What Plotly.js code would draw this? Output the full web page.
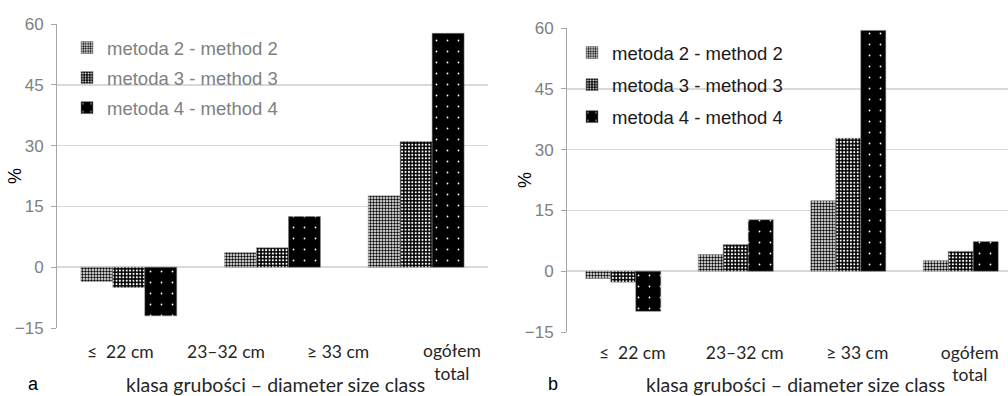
<!DOCTYPE html>
<html><head><meta charset="utf-8">
<script src="https://cdn.plot.ly/plotly-3.0.1.min.js"></script>
<style>html,body{margin:0;padding:0;background:#fff}#chart{width:1008px;height:396px}</style>
</head><body><div id="chart"></div>
<script>
const W = 1008, H = 396;

// ---- data ----
const catsA = ['≤ 22 cm', '23–32 cm', '≥ 33 cm'];
const labelsA = ['≤\u00a0 22 cm', '23–32 cm', '≥ 33 cm', 'ogółem<br>total'];
const catsB = ['≤ 22 cm', '23–32 cm', '≥ 33 cm', 'ogółem'];
const tickTextB = ['≤\u00a0 22 cm', '23–32 cm', '≥ 33 cm', 'ogółem<br>total'];
const seriesNames = ['metoda 2 - method 2', 'metoda 3 - method 3', 'metoda 4 - method 4'];
const m2A = [-3.5, 3.6, 17.6];
const m3A = [-5.0, 4.8, 31.0];
const m4A = [-12.0, 12.5, 57.7];
const m2B = [-1.8, 4.1, 17.4, 2.6];
const m3B = [-2.7, 6.6, 32.8, 4.9];
const m4B = [-9.9, 12.7, 59.4, 7.3];
const yTicks = [-15, 0, 15, 30, 45, 60];
const xTitle = 'klasa grubości – diameter size class';

// ---- styling ----
const px = x => x / W, py = y => 1 - y / H;
const patterns = [
  {shape: '.', fgcolor: '#000', bgcolor: '#fff', size: 3, solidity: 0.5},
  {shape: '.', fgcolor: '#fff', bgcolor: '#000', size: 3.4, solidity: 0.3},
  {shape: '.', fgcolor: '#fff', bgcolor: '#000', size: 11, solidity: 0.02}
];
const lineStyle = {color: '#7f7f7f', width: 0.5};
const seriesA = [m2A, m3A, m4A], seriesB = [m2B, m3B, m4B];
const traces = [];
seriesA.forEach((ys, i) => traces.push({
  type: 'bar', x: catsA, y: ys, name: seriesNames[i], xaxis: 'x', yaxis: 'y',
  legend: 'legend', legendgroup: 'a' + i,
  marker: {color: patterns[i].bgcolor, pattern: patterns[i], line: lineStyle}
}));
seriesB.forEach((ys, i) => traces.push({
  type: 'bar', x: catsB, y: ys, name: seriesNames[i], xaxis: 'x2', yaxis: 'y2',
  legend: 'legend2', legendgroup: 'b' + i,
  marker: {color: patterns[i].bgcolor, pattern: patterns[i], line: lineStyle}
}));

const arial = 'Liberation Sans, Arial, sans-serif';
const cal = 'Lato, Carlito, Calibri, sans-serif';
const yax = (dom, anchor) => ({
  domain: dom, anchor: anchor, range: [-15, 60], tickmode: 'array', tickvals: yTicks,
  showgrid: true, gridcolor: '#d9d9d9', gridwidth: 1.5, zeroline: false,
  showline: true, linecolor: '#a6a6a6', linewidth: 1,
  ticks: 'outside', ticklen: 5, tickcolor: '#a6a6a6', ticklabelstandoff: 4,
  tickfont: {family: arial, size: 17, color: '#808080'}, fixedrange: true
});

const annotations = [];
const ann = (text, x, y, o) => annotations.push(Object.assign({
  text: text, x: px(x), y: py(y), xref: 'paper', yref: 'paper', showarrow: false,
  xanchor: 'center', yanchor: 'middle'
}, o || {}));
const labFont = {family: cal, size: 17.5, color: '#262626'};
labelsA.forEach((t, i) => ann(t, [120, 226, 338, 452][i], i === 3 ? 362 : 351, {font: labFont}));
ann(xTitle, 275, 384, {font: {family: cal, size: 19.5, color: '#262626'}});
ann(xTitle, 795, 384, {font: {family: cal, size: 19.5, color: '#262626'}});
ann('%', 15, 176, {textangle: -90, font: {family: arial, size: 18, color: '#000'}});
ann('%', 525, 180, {textangle: -90, font: {family: arial, size: 18, color: '#000'}});
ann('a', 33, 384, {font: {family: arial, size: 18, color: '#000'}});
ann('b', 553, 384, {font: {family: arial, size: 18, color: '#000'}});

const layout = {
  width: W, height: H, margin: {l: 0, r: 0, t: 0, b: 0},
  paper_bgcolor: '#fff', plot_bgcolor: '#fff',
  barmode: 'group', bargap: 0.333, bargroupgap: 0,
  xaxis: {domain: [px(57), px(488)], anchor: 'y', range: [-0.5, 2.5], showticklabels: false,
    ticks: '', showgrid: false, zeroline: false, showline: false, fixedrange: true},
  yaxis: yax([py(328), py(24)], 'x'),
  xaxis2: {domain: [px(567), 1], anchor: 'y2', range: [-0.5, -0.5 + (W - 567) / 112.5],
    tickmode: 'array', tickvals: catsB, ticktext: tickTextB, ticks: '',
    ticklabelshift: 9, ticklabelstandoff: 8,
    tickfont: labFont,
    showgrid: false, zeroline: false, showline: false, fixedrange: true},
  yaxis2: yax([py(332), py(28)], 'x2'),
  legend: {x: px(67), y: py(29), xanchor: 'left', yanchor: 'top', bgcolor: 'rgba(0,0,0,0)',
    font: {family: arial, size: 18.5, color: '#808080'}, tracegroupgap: 3, itemwidth: 30},
  legend2: {x: px(572), y: py(34), xanchor: 'left', yanchor: 'top', bgcolor: 'rgba(0,0,0,0)',
    font: {family: arial, size: 18.5, color: '#1a1a1a'}, tracegroupgap: 5, itemwidth: 30},
  shapes: [
    {type: 'rect', xref: 'paper', yref: 'paper', x0: px(73), x1: px(300), y0: py(128), y1: py(32),
      fillcolor: '#fff', line: {width: 0}, layer: 'between'},
    {type: 'rect', xref: 'paper', yref: 'paper', x0: px(580), x1: px(815), y0: py(136), y1: py(38),
      fillcolor: '#fff', line: {width: 0}, layer: 'between'}
  ],
  annotations: annotations,
  showlegend: true
};
Plotly.newPlot('chart', traces, layout, {displayModeBar: false, staticPlot: true});
</script></body></html>
